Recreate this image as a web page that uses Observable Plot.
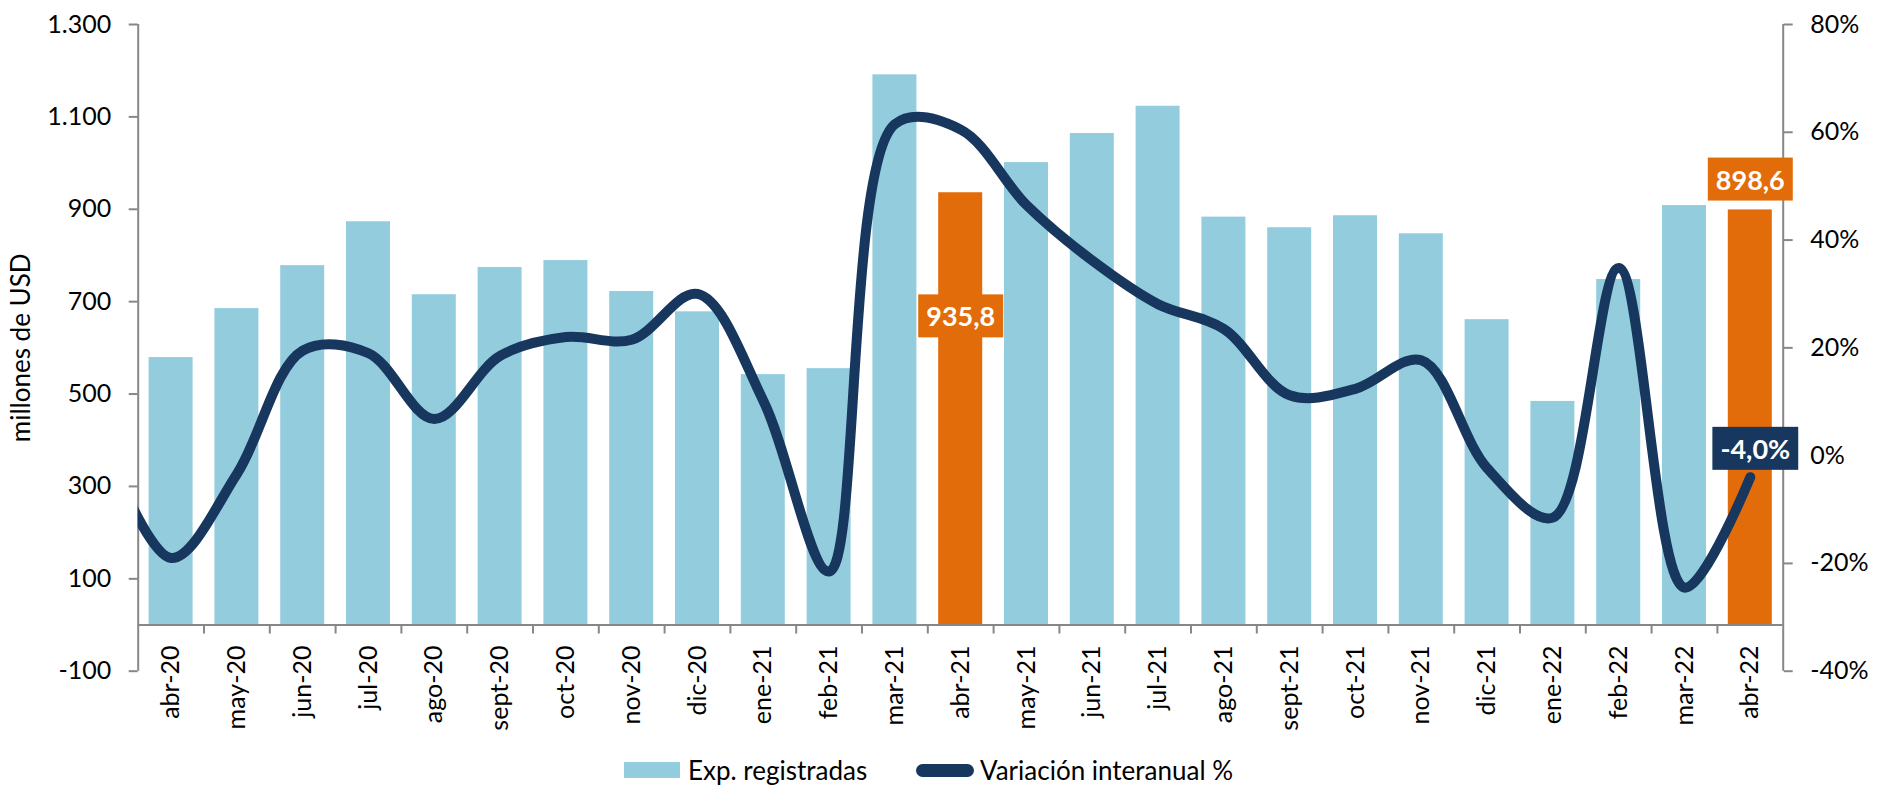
<!DOCTYPE html>
<html>
<head>
<meta charset="utf-8">
<script src="https://cdn.jsdelivr.net/npm/d3@7"></script>
<script src="https://cdn.jsdelivr.net/npm/@observablehq/plot@0.6"></script>
<style>
  html, body { margin: 0; padding: 0; background: #ffffff; }
  body { width: 1881px; height: 786px; overflow: hidden; font-family: Lato, "Open Sans", sans-serif; }
  #chart svg { display: block; }
  #legend { position: relative; width: 1881px; height: 41px; font-family: Lato, sans-serif; color: #000; }
  #legend .sw-bar { position: absolute; left: 624px; top: 17px; width: 56px; height: 16px; background: #93CDDD; }
  #legend .sw-line { position: absolute; left: 916px; top: 18.5px; width: 58px; height: 13px; border-radius: 6.5px; background: #17375E; }
  #legend .lt { position: absolute; top: 10px; font-size: 26px; line-height: 30px; white-space: nowrap; }
</style>
</head>
<body>
<div id="chart"></div>
<div id="legend">
  <div class="sw-bar"></div><div class="lt" style="left:688px">Exp. registradas</div>
  <div class="sw-line"></div><div class="lt" style="left:980px">Variación interanual %</div>
</div>
<script>
// ---- Data ----
const months = ["abr-20","may-20","jun-20","jul-20","ago-20","sept-20","oct-20","nov-20","dic-20",
  "ene-21","feb-21","mar-21","abr-21","may-21","jun-21","jul-21","ago-21","sept-21","oct-21","nov-21","dic-21",
  "ene-22","feb-22","mar-22","abr-22"];
const exportsUSD = [579, 685, 778, 873, 715, 774, 789, 722, 678,
  542, 555, 1191, 935.8, 1001, 1064, 1123, 883, 860, 886, 847, 661,
  484, 748, 908, 898.6];
const highlightMonths = ["abr-21", "abr-22"];
// year-on-year variation (%), series starts one month earlier (mar-20), clipped by the axis
const varMonths = ["mar-20", ...months];
const variation = [2, -19, -3.4, 19.5, 19, 6.8, 18.5, 22, 21.5, 30,
  10.2, -21.5, 61.5, 60.5, 46.5, 36.2, 28.1, 23.5, 11.2, 12.4, 17.7, -2.3,
  -11.5, 34.8, -24.5, -4.0];
const leftTicks = [-100, 100, 300, 500, 700, 900, 1100, 1300];
const rightTicks = [-40, -20, 0, 20, 40, 60, 80];
const leftDomain = [-100, 1300];
const rightDomain = [-40, 80];
const labelBar1 = {month: "abr-21", text: "935,8"};
const labelBar2 = {month: "abr-22", text: "898,6"};
const labelLine = {month: "abr-22", text: "-4,0%"};

// ---- Styles ----
const blue = "#93CDDD", orange = "#E36C0A", navy = "#17375E", gray = "#878787";

// map right-axis percentages onto the left-axis scale
const toLeft = p => leftDomain[0] + (p - rightDomain[0]) * (leftDomain[1] - leftDomain[0]) / (rightDomain[1] - rightDomain[0]);
const fromLeft = v => Math.round(rightDomain[0] + (v - leftDomain[0]) * (rightDomain[1] - rightDomain[0]) / (leftDomain[1] - leftDomain[0]));
const fmtThousands = d => (d < 0 ? "-" : "") + String(Math.abs(d)).replace(/\B(?=(\d{3})+(?!\d))/g, ".");

const bars = months.map((m, i) => ({month: m, i, value: exportsUSD[i], fill: highlightMonths.includes(m) ? orange : blue}));
const lineData = varMonths.map((m, k) => ({month: m, i: k - 1, pct: variation[k]}));
const boundaries = d3.range(months.length - 1).map(i => i + 0.5);
const idx = m => months.indexOf(m);

const chart = Plot.plot({
  width: 1881,
  height: 745,
  marginLeft: 137.7,
  marginRight: 98.3,
  marginTop: 24,
  marginBottom: 74.3,
  x: {type: "linear", domain: [-0.5, months.length - 0.5], axis: null},
  y: {domain: leftDomain, axis: null},
  color: {type: "identity"},
  style: {fontFamily: "Lato, sans-serif", fontSize: "25px", color: "#000", background: "#fff", overflow: "visible"},
  marks: [
    Plot.rectY(bars, {x1: d => d.i - 0.5, x2: d => d.i + 0.5, y1: 0, y2: "value", fill: "fill", insetLeft: 10.9, insetRight: 10.9}),
    // axis lines
    Plot.ruleX([-0.5], {y1: leftDomain[0], y2: leftDomain[1], stroke: gray, strokeWidth: 2}),
    Plot.ruleX([months.length - 0.5], {y1: leftDomain[0], y2: leftDomain[1], stroke: gray, strokeWidth: 2}),
    Plot.ruleY([0], {x1: -0.5, x2: months.length - 0.5, stroke: gray, strokeWidth: 2}),
    Plot.ruleX(boundaries, {x: d => d, y1: 0, y2: -19.5, stroke: gray, strokeWidth: 2}),
    Plot.axisY({anchor: "left", ticks: leftTicks, tickFormat: fmtThousands, tickSize: 9, tickPadding: 18, stroke: gray, strokeWidth: 2, fill: "#000", fontSize: 25, label: null}),
    Plot.axisY({anchor: "right", ticks: rightTicks.map(toLeft), tickFormat: v => (fromLeft(v) < 0 ? "-" : "") + Math.abs(fromLeft(v)) + "%", tickSize: 9, tickPadding: 18, stroke: gray, strokeWidth: 2, fill: "#000", fontSize: 25, label: null}),
    // category labels
    Plot.text(months, {x: (d, i) => i, y: 0, text: d => d, rotate: -90, textAnchor: "end", dy: 20.5, fontSize: 25, fill: "#000"}),
    // y axis title
    Plot.text(["millones de USD"], {frameAnchor: "left", text: d => d, rotate: -90, textAnchor: "middle", dx: -116.7, fontSize: 26, fill: "#000"}),
    // variation line
    Plot.line(lineData, {x: "i", y: d => toLeft(d.pct), stroke: navy, strokeWidth: 10, curve: "catmull-rom", clip: true, strokeLinecap: "round", strokeLinejoin: "round"}),
    // value labels
    Plot.text([labelBar1], {x: d => idx(d.month), y: d => exportsUSD[idx(d.month)], text: "text", dy: 125, fill: "#fff", fontWeight: "bold", fontSize: 27}),
    Plot.text([labelBar2], {x: d => idx(d.month), y: d => exportsUSD[idx(d.month)], text: "text", dy: -29, fill: "#fff", fontWeight: "bold", fontSize: 27}),
    Plot.text([labelLine], {x: d => idx(d.month), y: d => toLeft(variation[varMonths.indexOf(d.month)]), text: "text", dx: 5, dy: -27, fill: "#fff", fontWeight: "bold", fontSize: 27})
  ]
});

document.getElementById("chart").appendChild(chart);

function addBox(label, fill, padX, h) {
  const texts = Array.from(chart.querySelectorAll("text")).filter(t => t.textContent.trim() === label);
  texts.forEach(t => {
    const b = t.getBBox();
    const r = document.createElementNS("http://www.w3.org/2000/svg", "rect");
    r.setAttribute("x", b.x - padX);
    r.setAttribute("width", b.width + 2 * padX);
    r.setAttribute("y", b.y + b.height / 2 - h / 2);
    r.setAttribute("height", h);
    r.setAttribute("fill", fill);
    r.setAttribute("stroke", "none");
    const tr = t.getAttribute("transform");
    if (tr) r.setAttribute("transform", tr);
    t.parentNode.insertBefore(r, t);
  });
}
addBox(labelBar1.text, orange, 8, 43);
addBox(labelBar2.text, orange, 8, 43);
addBox(labelLine.text, navy, 8, 43);
</script>
</body>
</html>
